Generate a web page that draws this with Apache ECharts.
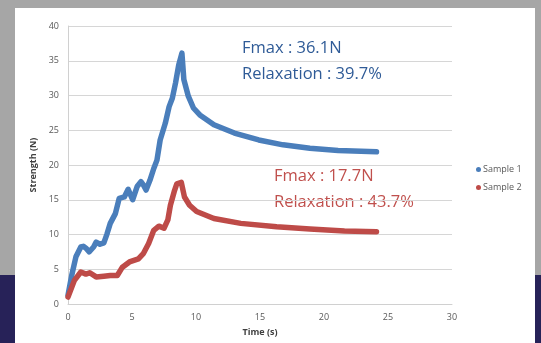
<!DOCTYPE html>
<html>
<head>
<meta charset="utf-8">
<script src="https://cdn.jsdelivr.net/npm/echarts@6/dist/echarts.min.js"></script>
<style>
  html, body { margin: 0; padding: 0; width: 541px; height: 343px; overflow: hidden; background: #a6a6a6; position: relative; }
  #navy { position: absolute; left: 0; top: 275px; width: 541px; height: 68px; background: #272258; }
  #panel { position: absolute; left: 15px; top: 8px; width: 520px; height: 335px; background: #ffffff; }
  #chart { position: absolute; left: 0; top: 0; width: 541px; height: 343px; }
</style>
</head>
<body>
<div id="navy"></div>
<div id="panel"></div>
<div id="chart"></div>
<script>
const seriesNames = ['Sample 1', 'Sample 2'];
const xTicks = [0, 5, 10, 15, 20, 25, 30];
const yTicks = [0, 5, 10, 15, 20, 25, 30, 35, 40];

const s1Time = [0, 0.3, 0.62, 1.0, 1.2, 1.43, 1.65, 2.0, 2.2, 2.5, 2.8, 3.05, 3.3, 3.7, 4.0, 4.4, 4.7, 5.05, 5.4, 5.7, 5.9, 6.1, 6.4, 6.7, 6.95, 7.2, 7.6, 7.9, 8.15, 8.4, 8.65, 8.9, 9.05, 9.4, 9.8, 10.3, 11.4, 13.0, 14.9, 16.8, 18.9, 21.1, 24.1];
const s1Values = [1.25, 4.2, 6.8, 8.2, 8.3, 8.0, 7.5, 8.2, 8.9, 8.6, 8.8, 10.1, 11.6, 13.0, 15.2, 15.4, 16.5, 15.0, 16.9, 17.6, 17.1, 16.4, 17.8, 19.5, 20.7, 23.6, 26.0, 28.4, 29.6, 31.8, 34.4, 36.1, 32.3, 29.9, 28.2, 27.2, 25.8, 24.6, 23.6, 22.9, 22.4, 22.1, 21.9];

const s2Time = [0, 0.5, 1.0, 1.4, 1.7, 2.2, 2.8, 3.3, 3.85, 4.25, 4.8, 5.5, 5.9, 6.3, 6.7, 7.1, 7.5, 7.8, 8.0, 8.3, 8.5, 8.85, 9.1, 9.5, 10.05, 11.4, 13.5, 16.3, 18.9, 21.6, 24.1];
const s2Values = [1.0, 3.4, 4.6, 4.3, 4.5, 3.9, 4.0, 4.1, 4.1, 5.3, 6.05, 6.5, 7.3, 8.7, 10.6, 11.2, 10.9, 12.1, 14.2, 16.2, 17.3, 17.5, 15.4, 14.2, 13.3, 12.3, 11.6, 11.1, 10.8, 10.5, 10.4];

const annotations1 = ['Fmax : 36.1N', 'Relaxation : 39.7%'];
const annotations2 = ['Fmax : 17.7N', 'Relaxation : 43.7%'];

const colors = ['#4a7ebb', '#be4b48'];
const pairs = (t, v) => t.map((x, i) => [x, v[i]]);

const chart = echarts.init(document.getElementById('chart'), null, { renderer: 'canvas' });
const font = '"Open Sans", "Liberation Sans", sans-serif';
chart.setOption({
  backgroundColor: 'transparent',
  animation: false,
  textStyle: { fontFamily: font },
  grid: { left: 68, right: 89, top: 26, bottom: 39 },
  xAxis: {
    type: 'value', min: xTicks[0], max: xTicks[xTicks.length - 1], interval: 5,
    name: 'Time (s)', nameLocation: 'middle', nameGap: 24,
    nameTextStyle: { fontSize: 9, fontWeight: 'bold', color: '#404040', fontFamily: font },
    axisLine: { show: true, lineStyle: { color: '#d0d0d0', width: 1 } },
    axisTick: { show: false },
    splitLine: { show: false },
    axisLabel: { fontSize: 9, color: '#595959', margin: 9, fontFamily: font }
  },
  yAxis: {
    type: 'value', min: yTicks[0], max: yTicks[yTicks.length - 1], interval: 5,
    name: 'Strength (N)', nameLocation: 'middle', nameGap: 27, nameRotate: 90,
    nameTextStyle: { fontSize: 9, fontWeight: 'bold', color: '#404040', fontFamily: font },
    axisLine: { show: true, lineStyle: { color: '#d0d0d0', width: 1 } },
    axisTick: { show: false },
    splitLine: { show: true, lineStyle: { color: '#d6d6d6', width: 1 } },
    axisLabel: { fontSize: 9, color: '#595959', margin: 9, fontFamily: font }
  },
  legend: {
    orient: 'vertical', left: 471, top: 160, itemGap: 9,
    icon: 'circle', itemWidth: 5, itemHeight: 5,
    textStyle: { fontSize: 9, color: '#595959', fontFamily: font, padding: [0, 0, 0, -3] },
    data: seriesNames
  },
  series: [
    { name: seriesNames[0], type: 'line', data: pairs(s1Time, s1Values), showSymbol: false, symbol: 'circle',
      color: colors[0], lineStyle: { width: 5.5, color: colors[0], cap: 'round', join: 'round' } },
    { name: seriesNames[1], type: 'line', data: pairs(s2Time, s2Values), showSymbol: false, symbol: 'circle',
      color: colors[1], lineStyle: { width: 5.5, color: colors[1], cap: 'round', join: 'round' } }
  ],
  graphic: [
    { type: 'text', left: 242, top: 40, style: { text: annotations1[0], fill: '#2f5b97', font: '16.5px ' + font } },
    { type: 'text', left: 242, top: 66, style: { text: annotations1[1], fill: '#2f5b97', font: '16.5px ' + font } },
    { type: 'text', left: 274, top: 168, style: { text: annotations2[0], fill: '#c0504d', font: '16.5px ' + font } },
    { type: 'text', left: 274, top: 194, style: { text: annotations2[1], fill: '#c0504d', font: '16.5px ' + font } }
  ]
});
</script>
</body>
</html>
